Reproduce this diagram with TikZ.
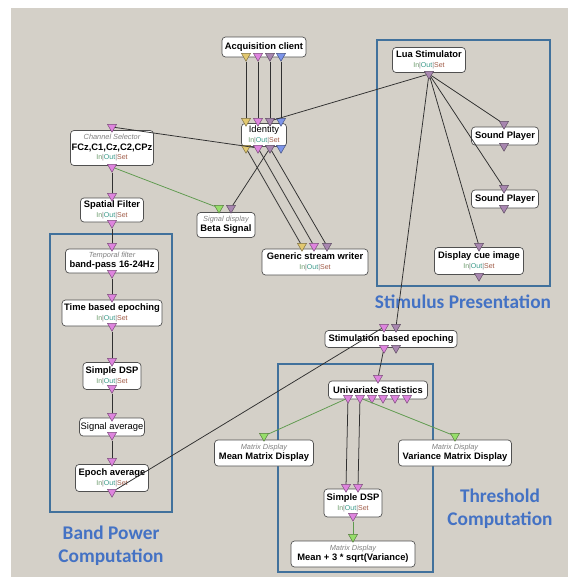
\documentclass[tikz,border=0pt]{standalone}
\usepackage{fontspec}
\setmainfont{Liberation Sans}
\newfontfamily\tagfont{Carlito}
\usetikzlibrary{shapes.geometric}
\definecolor{bgc}{HTML}{D4D0C8}
\definecolor{boxc}{HTML}{505050}
\definecolor{linkc}{HTML}{303030}
\definecolor{greenc}{HTML}{5E9A4E}
\definecolor{framec}{HTML}{41719C}
\definecolor{tagc}{HTML}{4472C4}
\definecolor{pY}{HTML}{E2C870}
\definecolor{pP}{HTML}{DE84DE}
\definecolor{pM}{HTML}{A886B0}
\definecolor{pB}{HTML}{7C94EA}
\definecolor{pG}{HTML}{96DE6A}
\definecolor{inc}{HTML}{6A9A6A}
\definecolor{outc}{HTML}{3A9A8A}
\definecolor{setc}{HTML}{A05A46}
\newcommand{\ios}{{\fontsize{6}{7}\selectfont\mdseries\textcolor{inc}{In}\textcolor{gray}{|}\textcolor{outc}{Out}\textcolor{gray}{|}\textcolor{setc}{Set}}}
\newcommand{\subt}[1]{{\fontsize{6.3}{7.3}\selectfont\mdseries\itshape\color{gray}#1}}

\begin{document}
\begin{tikzpicture}[x=0.03cm, y=-0.03cm,
	blk/.style={draw=boxc, fill=white, rounded corners=3pt, line width=0.6pt, align=center, inner sep=1pt,
		font=\fontsize{8}{9}\selectfont\bfseries},
	wd/.style={minimum width=#1*0.03cm},
	ht/.style={minimum height=#1*0.03cm},
	port/.style={regular polygon, regular polygon sides=3, shape border rotate=180, minimum size=8.9pt,
		inner sep=0pt, fill=#1, draw=#1!55!black, line width=0.4pt},
	lnk/.style={draw=linkc, line width=0.65pt},
	glnk/.style={draw=greenc, line width=0.65pt},
	grp/.style={draw=framec, line width=2.5pt},
	tag/.style={text=tagc, font=\tagfont\fontsize{16.5}{20}\selectfont\bfseries, align=center}]
	\useasboundingbox (0,0) rectangle (568,578);
	\fill[bgc] (11,8) rectangle (568,577);

	% groups
	\draw[grp] (377,40) rectangle (550,286);
	\draw[grp] (50,234) rectangle (172,512);
	\draw[grp] (278,364) rectangle (433,572);
	\node[tag] (stimtag) at (463,302) {Stimulus Presentation};
	\node[tag] (bandtag) at (111,546) {Band Power\\Computation};
	\node[tag] (thrtag) at (500,509) {Threshold\\Computation};

	% boxes
	\node[blk, wd=84, ht=20] (acq) at (264,47) {Acquisition client};
	\node[blk, wd=45, ht=23, font=\fontsize{8}{9}\selectfont] (ident) at (264,135) {Identity\\[-1pt]\ios};
	\node[blk, wd=73, ht=25] (lua) at (429,60) {Lua Stimulator\\[-1pt]\ios};
	\node[blk, wd=67, ht=18] (snd1) at (505,136) {Sound Player};
	\node[blk, wd=67, ht=18] (snd2) at (505,199) {Sound Player};
	\node[blk, wd=89, ht=27] (cue) at (479,261) {Display cue image\\[-1pt]\ios};
	\node[blk, wd=80, ht=35] (chsel) at (112,148) {\subt{Channel Selector}\\FCz,C1,Cz,C2,CPz\\[-1pt]\ios};
	\node[blk, wd=63, ht=24] (spat) at (112,210) {Spatial Filter\\[-1pt]\ios};
	\node[blk, wd=58, ht=25] (beta) at (226,225) {\subt{Signal display}\\Beta Signal};
	\node[blk, wd=93, ht=24] (temp) at (112,261) {\subt{Temporal filter}\\band-pass 16-24Hz};
	\node[blk, wd=100, ht=26] (tbe) at (112,313) {Time based epoching\\[-1pt]\ios};
	\node[blk, wd=58, ht=27] (dsp1) at (112,376) {Simple DSP\\[-1pt]\ios};
	\node[blk, wd=64, ht=18, font=\fontsize{8}{9}\selectfont] (avg) at (112,427) {Signal average};
	\node[blk, wd=73, ht=27] (epoch) at (112,478) {Epoch average\\[-1pt]\ios};
	\node[blk, wd=106, ht=26] (gsw) at (315,262) {Generic stream writer\\[-1pt]\ios};
	\node[blk, wd=132, ht=17] (sbe) at (391,339) {Stimulation based epoching};
	\node[blk, wd=99, ht=18] (uni) at (378,390) {Univariate Statistics};
	\node[blk, wd=99, ht=26] (meanmd) at (264,453) {\subt{Matrix Display}\\Mean Matrix Display};
	\node[blk, wd=113, ht=26] (varmd) at (455,453) {\subt{Matrix Display}\\Variance Matrix Display};
	\node[blk, wd=58, ht=28] (dsp2) at (353,503) {Simple DSP\\[-1pt]\ios};
	\node[blk, wd=124, ht=26] (thr) at (353,554) {\subt{Matrix Display}\\Mean + 3 * sqrt(Variance)};

	% ports
	\node[port=pY] (acqO1) at (246,56) {};
	\node[port=pP] (acqO2) at (258,56) {};
	\node[port=pM] (acqO3) at (270,56) {};
	\node[port=pB] (acqO4) at (281,56) {};
	\node[port=pY] (idI1) at (246,121) {};
	\node[port=pP] (idI2) at (258,121) {};
	\node[port=pM] (idI3) at (270,121) {};
	\node[port=pB] (idI4) at (281,121) {};
	\node[port=pY] (idO1) at (246,148) {};
	\node[port=pP] (idO2) at (258,148) {};
	\node[port=pM] (idO3) at (270,148) {};
	\node[port=pB] (idO4) at (281,148) {};
	\node[port=pY] (gswI1) at (302,246) {};
	\node[port=pP] (gswI2) at (314,246) {};
	\node[port=pM] (gswI3) at (327,246) {};
	\node[port=pG] (betaI1) at (219,208) {};
	\node[port=pM] (betaI2) at (231,208) {};
	\node[port=pM] (luaO) at (429,74) {};
	\node[port=pM] (snd1I) at (504,124) {};
	\node[port=pM] (snd1O) at (504,146) {};
	\node[port=pM] (snd2I) at (504,188) {};
	\node[port=pM] (snd2O) at (504,208) {};
	\node[port=pM] (cueI) at (479,246) {};
	\node[port=pM] (cueO) at (479,276) {};
	\foreach \n/\yi/\yo in {chsel/127/167, spat/196/223, temp/246/273, tbe/297/326, dsp1/361/388, avg/416/435, epoch/461/492}{
		\node[port=pP] (\n I) at (112,\yi) {};
		\node[port=pP] (\n O) at (112,\yo) {};
	}
	\node[port=pP] (sbeI1) at (384,327) {};
	\node[port=pM] (sbeI2) at (396,327) {};
	\node[port=pP] (sbeO1) at (384,348) {};
	\node[port=pM] (sbeO2) at (396,348) {};
	\node[port=pP] (uniI) at (378,378) {};
	\foreach \i/\x in {1/348, 2/360, 3/372, 4/383, 5/395, 6/407}
		\node[port=pP] (uniO\i) at (\x,398) {};
	\node[port=pG] (meanI) at (264,436) {};
	\node[port=pG] (varI) at (455,436) {};
	\node[port=pP] (dsp2I1) at (346,487) {};
	\node[port=pP] (dsp2I2) at (358,487) {};
	\node[port=pP] (dsp2O) at (353,516) {};
	\node[port=pG] (thrI) at (353,537) {};

	% links
	\foreach \i in {1,...,4}
		\draw[lnk] (acqO\i) -- (idI\i);
	\draw[lnk] (luaO) -- (idI3);
	\draw[lnk] (idO2) -- (chselI);
	\draw[lnk] (idO1) -- (gswI1);
	\draw[lnk] (idO2) -- (gswI2);
	\draw[lnk] (idO3) -- (gswI3);
	\draw[lnk] (idO3) -- (betaI2);
	\draw[lnk] (chselO) -- (spatI);
	\draw[glnk] (chselO) -- (betaI1);
	\draw[lnk] (spatO) -- (tempI);
	\draw[lnk] (tempO) -- (tbeI);
	\draw[lnk] (tbeO) -- (dsp1I);
	\draw[lnk] (dsp1O) -- (avgI);
	\draw[lnk] (avgO) -- (epochI);
	\draw[lnk] (epochO) -- (sbeI1);
	\draw[lnk] (luaO) -- (snd1I);
	\draw[lnk] (luaO) -- (snd2I);
	\draw[lnk] (luaO) -- (cueI);
	\draw[lnk] (luaO) -- (sbeI2);
	\draw[lnk] (sbeO1) -- (uniI);
	\draw[glnk] (uniO1) -- (meanI);
	\draw[glnk] (uniO2) -- (varI);
	\draw[lnk] (uniO1) -- (dsp2I1);
	\draw[lnk] (uniO2) -- (dsp2I2);
	\draw[glnk] (dsp2O) -- (thrI);
\end{tikzpicture}
\end{document}
